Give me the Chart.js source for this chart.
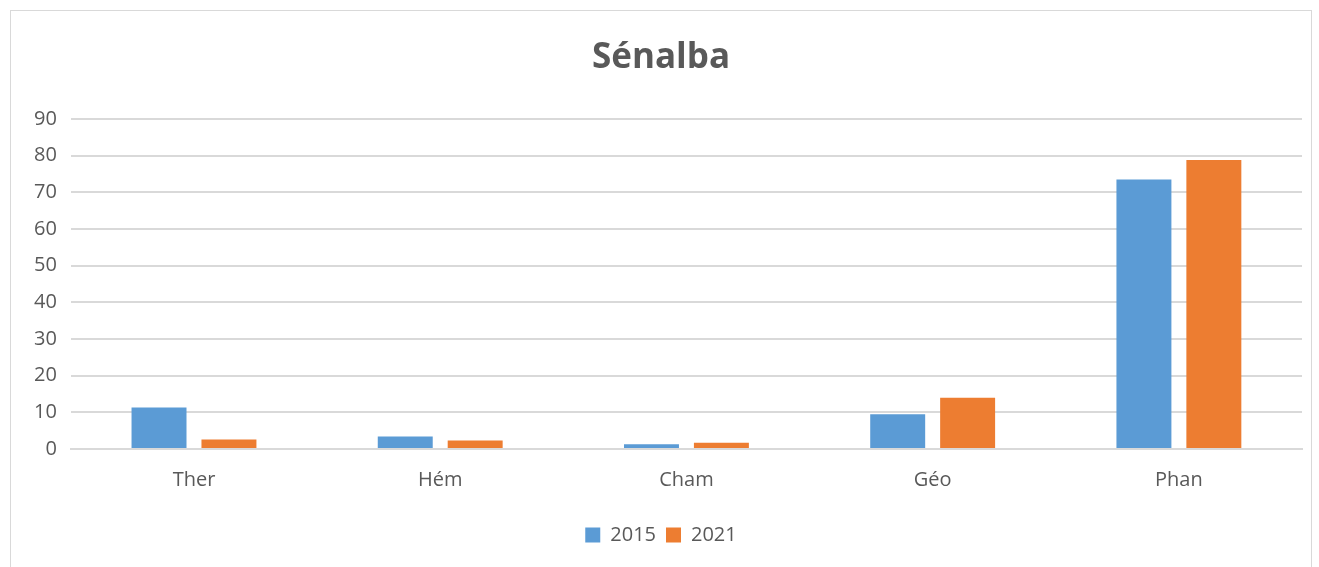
<!DOCTYPE html>
<html lang="fr">
<head>
    <meta charset="UTF-8" />
    <title>Sénalba</title>
    <script src="https://cdn.jsdelivr.net/npm/chart.js"></script>
    <style>
        html, body { margin: 0; padding: 0; background: #fff; }
        #cadre {
            position: absolute; left: 10px; top: 10px;
            width: 1302px; height: 570px;
            border: 1px solid #d9d9d9; box-sizing: border-box;
        }
        #wrap { position: absolute; left: 0; top: 0; width: 1319px; height: 567px; }
    </style>
</head>
<body>
<div id="cadre"></div>
<div id="wrap"><canvas id="grafico"></canvas></div>

<script>
    const categories = ['Ther', 'Hém', 'Cham', 'Géo', 'Phan'];
    const valeurs2015 = [11.3, 3.4, 1.3, 9.5, 73.5];
    const valeurs2021 = [2.6, 2.3, 1.7, 14.0, 78.8];
    const seriesLabels = ['2015', '2021'];

    const gris = '#595959';
    Chart.defaults.font.family = "'Open Sans', sans-serif";
    Chart.defaults.color = gris;

    new Chart(document.getElementById('grafico'), {
        type: 'bar',
        data: {
            labels: categories,
            datasets: [{
                label: seriesLabels[0],
                data: valeurs2015,
                backgroundColor: '#5b9bd5',
                categoryPercentage: 0.568,
                barPercentage: 0.786
            }, {
                label: seriesLabels[1],
                data: valeurs2021,
                backgroundColor: '#ed7d31',
                categoryPercentage: 0.568,
                barPercentage: 0.786
            }]
        },
        options: {
            responsive: true,
            maintainAspectRatio: false,
            animation: false,
            layout: { padding: { left: 20, right: 17, top: 37, bottom: 12 } },
            plugins: {
                title: {
                    display: true,
                    text: 'Sénalba',
                    color: gris,
                    font: { size: 35, weight: 'bold' },
                    padding: { top: 0, bottom: 40 }
                },
                legend: {
                    position: 'bottom',
                    labels: {
                        boxWidth: 15, boxHeight: 15,
                        font: { size: 20 },
                        color: gris,
                        padding: 10
                    }
                },
                tooltip: { enabled: false }
            },
            scales: {
                x: {
                    grid: { display: false },
                    border: { color: '#d9d9d9', width: 2 },
                    ticks: { font: { size: 20 }, color: gris, padding: 11 },
                    afterFit: (scale) => { scale.height += 12; }
                },
                y: {
                    min: 0, max: 90,
                    ticks: { stepSize: 10, font: { size: 20 }, color: gris, padding: 14 },
                    grid: { color: '#d9d9d9', lineWidth: 2, drawTicks: false },
                    border: { display: false }
                }
            }
        }
    });
</script>
</body>
</html>
